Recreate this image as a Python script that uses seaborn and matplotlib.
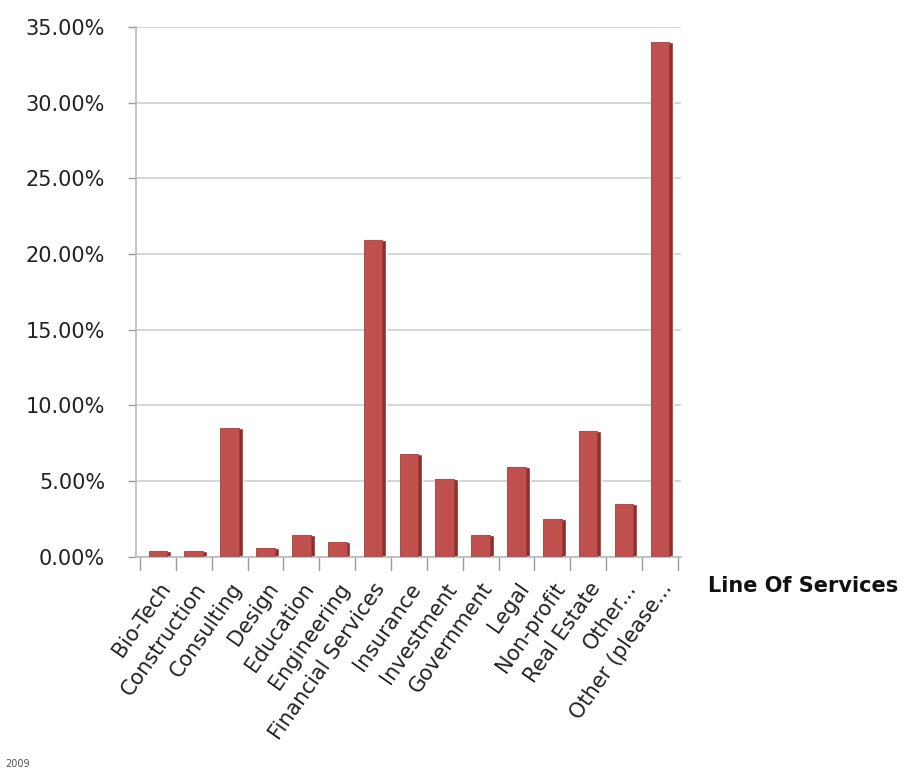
import matplotlib
matplotlib.use('Agg')
import matplotlib.pyplot as plt
from matplotlib.ticker import PercentFormatter
import seaborn as sns
import pandas as pd
import numpy as np

categories = ['Bio-Tech', 'Construction', 'Consulting', 'Design', 'Education',
              'Engineering', 'Financial Services', 'Insurance', 'Investment',
              'Government', 'Legal', 'Non-profit', 'Real Estate', 'Other...',
              'Other (please...']
shares = [0.4, 0.4, 8.5, 0.6, 1.4, 1.0, 20.9, 6.8, 5.1, 1.4, 5.9, 2.5, 8.3, 3.5, 34.0]

df = pd.DataFrame({'service': categories, 'share': shares})

sns.set_theme(style='white')
plt.rcParams['font.family'] = ['DejaVu Sans']

fig = plt.figure(figsize=(9.17, 7.71), dpi=100)
ax = fig.add_axes([0.148, 0.278, 0.595, 0.687])

# darker side face to fake the 3D look
x = np.arange(len(categories))
ax.bar(x + 0.22, df['share'], width=0.3, color='#8E2E2B', zorder=2)
sns.barplot(data=df, x='service', y='share', color='#C0504D', saturation=1,
            width=0.52, edgecolor='#A33F3C', linewidth=0.6, ax=ax, zorder=3)

ax.set_ylim(0, 35)
ax.set_xlim(-0.62, len(categories) - 0.4)
ax.set_yticks(np.arange(0, 36, 5))
ax.yaxis.set_major_formatter(PercentFormatter(decimals=2))
ax.yaxis.grid(True, color='#D0D0D0', linewidth=1.2)
ax.set_axisbelow(True)

ax.set_xticks(x)
ax.set_xticklabels(categories, rotation=55, ha='right', rotation_mode='anchor',
                   fontsize=15, color='#222222')
ax.tick_params(axis='y', labelsize=15, colors='#222222', length=6, width=1,
               color='#9A9A9A', left=True, pad=16)
ax.tick_params(axis='x', length=0, pad=16)
# boundary ticks between categories
for b in np.arange(-0.5, len(categories), 1):
    ax.plot([b, b], [0, -0.9], color='#9A9A9A', lw=1, clip_on=False)

for s in ['top', 'right']:
    ax.spines[s].set_visible(False)
ax.spines['left'].set_color('#BDBDBD')
ax.spines['bottom'].set_color('#BDBDBD')
ax.set_xlabel('')
ax.set_ylabel('')

fig.text(0.772, 0.232, 'Line Of Services', fontsize=15, fontweight='bold',
         color='#111111')
fig.text(0.006, 0.005, '2009', fontsize=7, color='#555555')

fig.savefig('out.png', dpi=100, facecolor='white')
